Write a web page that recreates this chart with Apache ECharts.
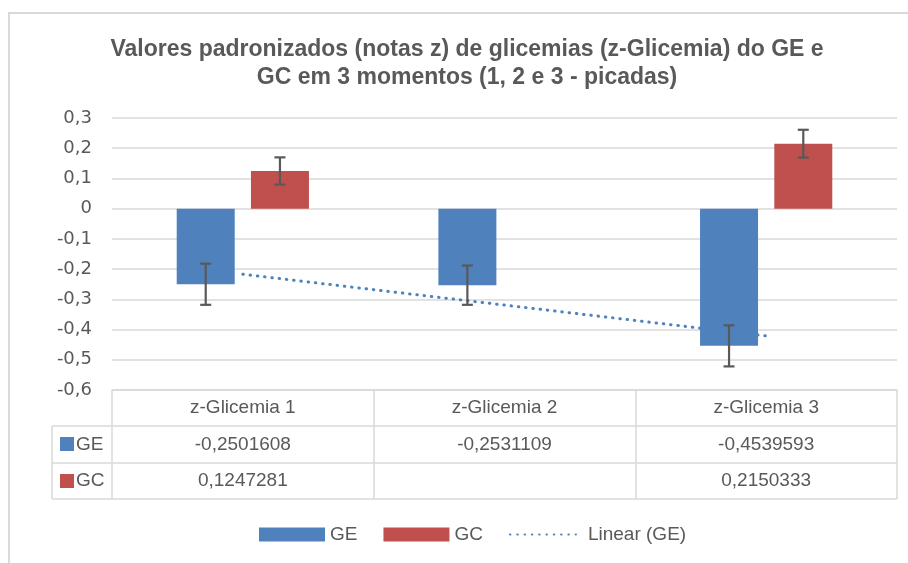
<!DOCTYPE html>
<html>
<head>
<meta charset="utf-8">
<script src="https://cdn.jsdelivr.net/npm/echarts@6/dist/echarts.min.js"></script>
<style>
  html, body { margin: 0; padding: 0; background: #fff; }
  #main { width: 908px; height: 563px; }
</style>
</head>
<body>
<div id="main"></div>
<script>
// data
const categories = ['z-Glicemia 1', 'z-Glicemia 2', 'z-Glicemia 3'];
const geValues = [-0.2501608, -0.2531109, -0.4539593];
const gcValues = [0.1247281, null, 0.2150333];
const geErrors = [0.068, 0.065, 0.068];
const gcErrors = [0.045, null, 0.046];
const trendGE = [-0.217, -0.319, -0.421];
const yTicks = { min: -0.6, max: 0.3, step: 0.1 };

const blue = '#4f81bd';
const red = '#c0504d';
const grey = '#595959';
const lineGrey = '#d9d9d9';
const font = 'Liberation Sans';

const barWidth = 58;
const barGap = 0.28;
const barOffset = barWidth * (1 + barGap) / 2;

const fmt = v => v == null ? ' ' : v.toFixed(7).replace('.', ',');

const chart = echarts.init(document.getElementById('main'), null, { renderer: 'canvas' });

function errorSeries(vals, errs, side) {
  const data = [];
  vals.forEach((v, i) => { if (v != null) data.push([i, v, errs[i]]); });
  return {
    type: 'custom',
    z: 5,
    silent: true,
    encode: { x: 0, y: 1 },
    data: data,
    renderItem: function (params, api) {
      const i = api.value(0), v = api.value(1), e = api.value(2);
      const hi = api.coord([i, v + e]);
      const lo = api.coord([i, v - e]);
      const x = hi[0] + side * barOffset;
      const cap = 5.5;
      const style = { stroke: grey, lineWidth: 2.2 };
      return {
        type: 'group',
        children: [
          { type: 'line', shape: { x1: x, y1: hi[1], x2: x, y2: lo[1] }, style: style },
          { type: 'line', shape: { x1: x - cap, y1: hi[1], x2: x + cap, y2: hi[1] }, style: style },
          { type: 'line', shape: { x1: x - cap, y1: lo[1], x2: x + cap, y2: lo[1] }, style: style }
        ]
      };
    }
  };
}

const option = {
  backgroundColor: '#fff',
  animation: false,
  title: {
    text: 'Valores padronizados (notas z) de glicemias (z-Glicemia) do GE e\nGC em 3 momentos (1, 2 e 3 - picadas)',
    left: 467,
    top: 36,
    padding: 0,
    textAlign: 'center',
    textStyle: { fontFamily: font, fontSize: 23, fontWeight: 'bold', color: grey, lineHeight: 28 }
  },
  legend: {
    data: [
      { name: 'GE', icon: 'rect' },
      { name: 'GC', icon: 'rect' },
      { name: 'Linear (GE)', itemStyle: { opacity: 0 } }
    ],
    left: 259,
    top: 525,
    padding: 0,
    itemWidth: 66,
    itemHeight: 14,
    itemGap: 26,
    formatter: n => n === 'Linear (GE)' ? '{l|' + n + '}' : n,
    textStyle: {
      fontFamily: font, fontSize: 19, color: grey,
      rich: { l: { fontFamily: font, fontSize: 19, color: grey, padding: [0, 0, 0, 7] } }
    }
  },
  grid: { left: 112, right: 11, top: 118, bottom: 173 },
  xAxis: {
    type: 'category',
    data: categories,
    axisLine: { onZero: false, lineStyle: { color: lineGrey, width: 1.5 } },
    axisTick: { show: true, length: 109, lineStyle: { color: lineGrey, width: 1.5 } },
    axisLabel: {
      margin: 0,
      interval: 0,
      formatter: function (value, idx) {
        return '{v|' + value + '}\n{v|' + fmt(geValues[idx]) + '}\n{v|' + fmt(gcValues[idx]) + '}';
      },
      rich: { v: { fontFamily: font, fontSize: 19, color: grey, lineHeight: 36.5 } }
    }
  },
  yAxis: {
    type: 'value',
    min: yTicks.min,
    max: yTicks.max,
    interval: yTicks.step,
    axisLine: { show: false },
    axisTick: { show: false },
    splitLine: { lineStyle: { color: lineGrey, width: 1.5 } },
    axisLabel: {
      margin: 20,
      fontFamily: 'DejaVu Sans',
      fontSize: 18,
      color: grey,
      formatter: v => Math.abs(v) < 1e-9 ? '0' : v.toFixed(1).replace('.', ',')
    }
  },
  series: [
    {
      name: 'Linear (GE)',
      type: 'line',
      z: 1,
      data: trendGE,
      symbol: 'none',
      silent: true,
      lineStyle: { color: blue, width: 3, type: [0.5, 6.8], cap: 'round' },
      itemStyle: { color: blue }
    },
    {
      name: 'GE',
      type: 'bar',
      z: 2,
      data: geValues,
      barWidth: barWidth,
      barGap: (barGap * 100) + '%',
      itemStyle: { color: blue }
    },
    {
      name: 'GC',
      type: 'bar',
      z: 2,
      data: gcValues,
      barWidth: barWidth,
      barGap: (barGap * 100) + '%',
      itemStyle: { color: red }
    },
    errorSeries(geValues, geErrors, -1),
    errorSeries(gcValues, gcErrors, 1)
  ],
  graphic: [
    // outer chart frame
    { type: 'rect', shape: { x: 9, y: 13, width: 940, height: 600 }, style: { fill: null, stroke: lineGrey, lineWidth: 2 }, silent: true },
    // data table rules
    { type: 'line', shape: { x1: 52, y1: 426, x2: 897, y2: 426 }, style: { stroke: lineGrey, lineWidth: 1.5 } },
    { type: 'line', shape: { x1: 52, y1: 463, x2: 897, y2: 463 }, style: { stroke: lineGrey, lineWidth: 1.5 } },
    { type: 'line', shape: { x1: 52, y1: 499, x2: 897, y2: 499 }, style: { stroke: lineGrey, lineWidth: 1.5 } },
    { type: 'line', shape: { x1: 52, y1: 426, x2: 52, y2: 499 }, style: { stroke: lineGrey, lineWidth: 1.5 } },
    // row keys
    { type: 'rect', shape: { x: 60, y: 437, width: 14, height: 14 }, style: { fill: blue } },
    { type: 'text', x: 76, y: 444.5, style: { text: 'GE', fontFamily: font, fontSize: 19, fill: grey, verticalAlign: 'middle' } },
    { type: 'rect', shape: { x: 60, y: 474, width: 14, height: 14 }, style: { fill: red } },
    { type: 'text', x: 76, y: 481, style: { text: 'GC', fontFamily: font, fontSize: 19, fill: grey, verticalAlign: 'middle' } }
  ]
};

chart.setOption(option);
</script>
</body>
</html>
